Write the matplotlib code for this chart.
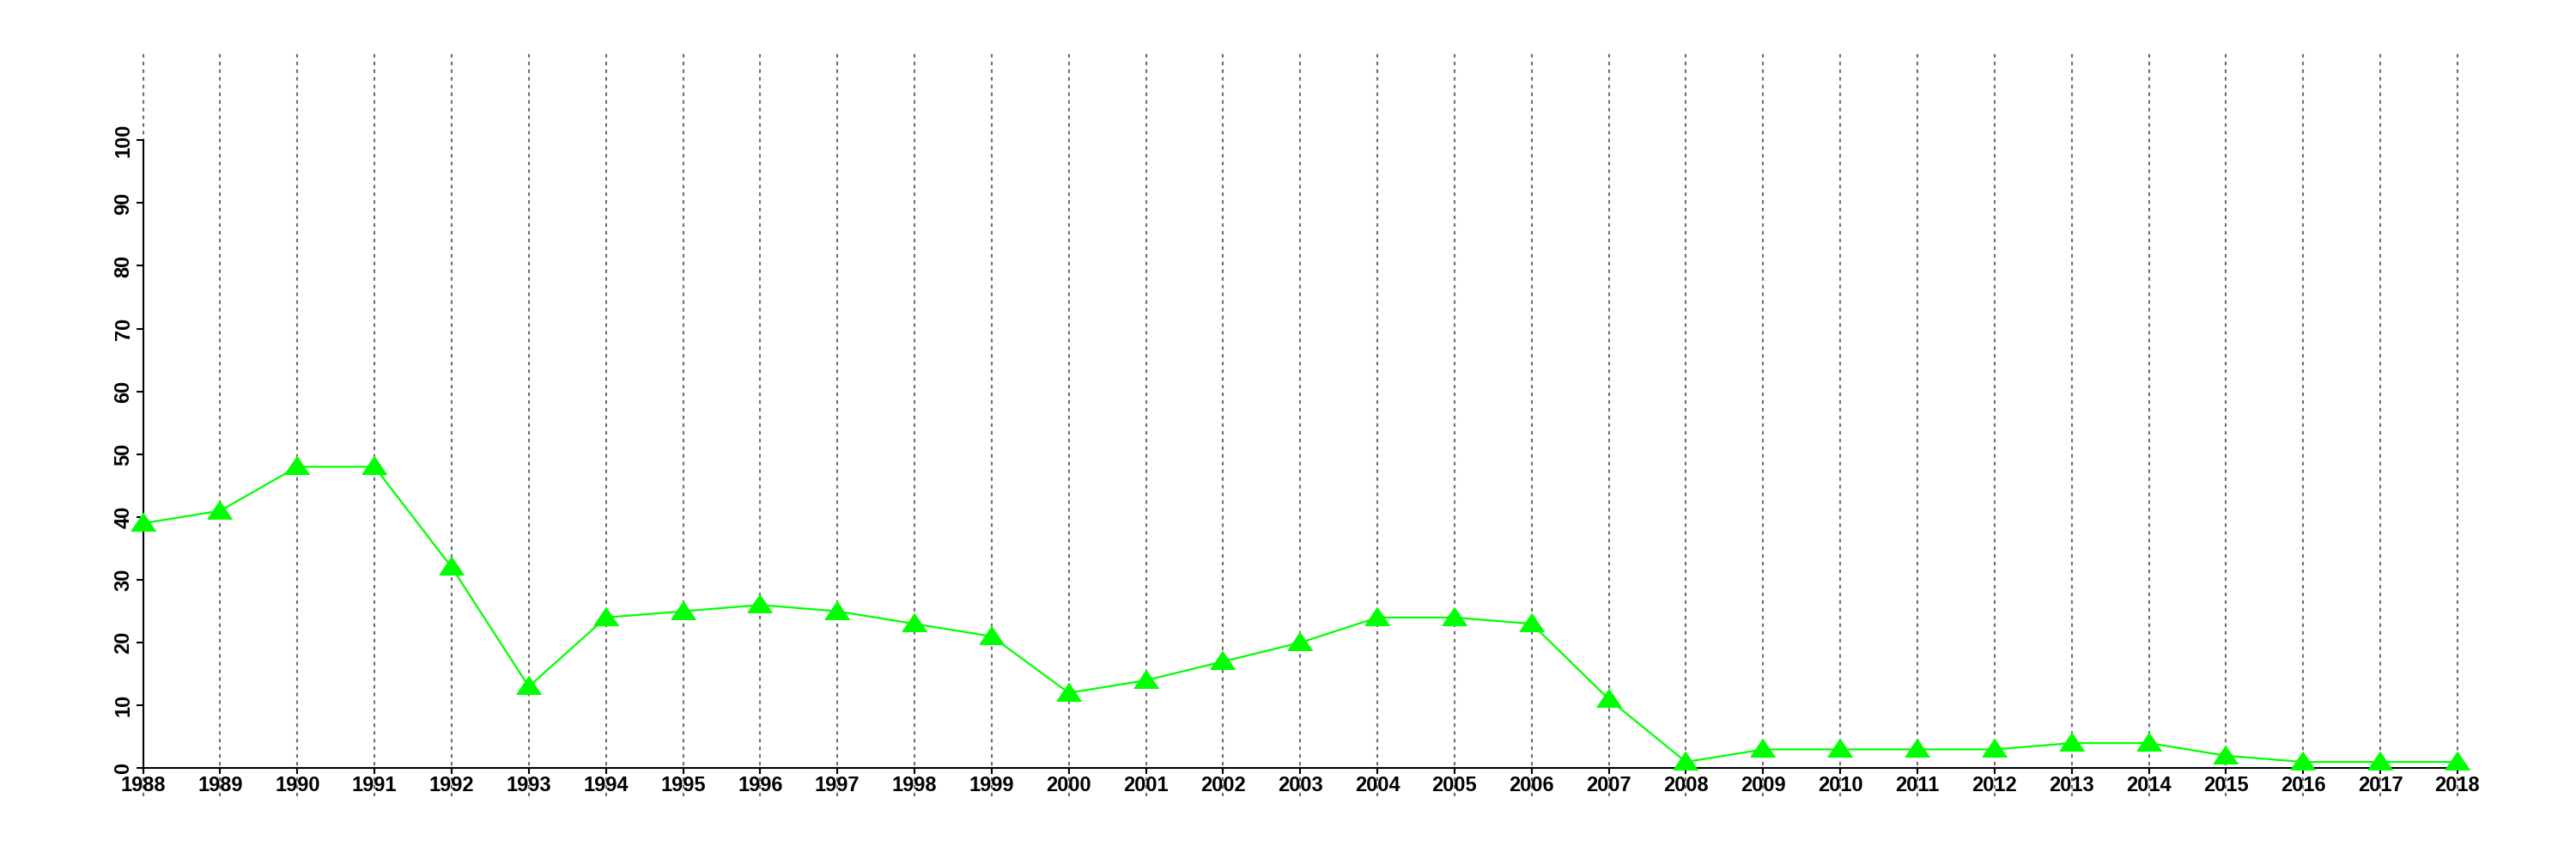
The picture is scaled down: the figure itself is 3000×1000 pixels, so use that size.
import matplotlib
matplotlib.use("Agg")
import matplotlib.pyplot as plt
import numpy as np

years = list(range(1988, 2019))
values = [39, 41, 48, 48, 32, 13, 24, 25, 26, 25, 23, 21, 12, 14, 17, 20,
          24, 24, 23, 11, 1, 3, 3, 3, 3, 4, 4, 2, 1, 1, 1]
y_ticks = [0, 10, 20, 30, 40, 50, 60, 70, 80, 90, 100]

plt.rcParams['font.family'] = ['Liberation Sans', 'DejaVu Sans']
plt.rcParams['font.weight'] = 'bold'

fig = plt.figure(figsize=(30, 10), dpi=100)
ax = fig.add_axes([0.0196, 0.0735, 0.9703, 0.8685])
ax.set_xlim(1986.8, 2019.2)
ax.set_ylim(-4.4, 114.4)

for yr in years:
    ax.axvline(yr, color='#6e6e6e', lw=1.5, linestyle=(0, (2.0, 2.3)), zorder=1)

tri = [(0, 11.7), (-13.5, -8.3), (13.5, -8.3)]
ax.plot(years, values, color='#00FF00', lw=1.6, marker=tri, markersize=20.5,
        markerfacecolor='#00FF00', markeredgecolor='#00FF00', zorder=3,
        clip_on=False)

for s in ['top', 'right']:
    ax.spines[s].set_visible(False)
ax.spines['left'].set_position(('data', 1988))
ax.spines['bottom'].set_position(('data', 0))
ax.spines['left'].set_bounds(0, 100)
ax.spines['bottom'].set_bounds(1988, 2018)
for s in ['left', 'bottom']:
    ax.spines[s].set_linewidth(1.5)
    ax.spines[s].set_color('black')

ax.set_xticks(years)
ax.set_xticklabels([str(y) for y in years], fontsize=17, fontweight='bold')
ax.set_yticks(y_ticks)
ax.set_yticklabels([str(v) for v in y_ticks], fontsize=17, fontweight='bold',
                   rotation=90, va='center')
ax.tick_params(axis='x', length=5, width=1.5, pad=1)
ax.tick_params(axis='y', length=6, width=1.5, pad=2)

fig.savefig('out.png', dpi=100)
